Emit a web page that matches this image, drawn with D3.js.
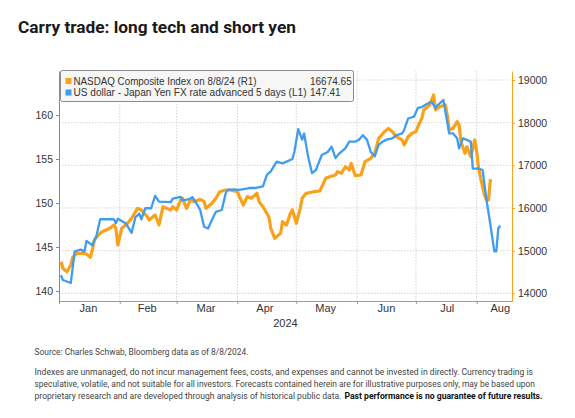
<!DOCTYPE html>
<html><head><meta charset="utf-8">
<script src="https://cdn.jsdelivr.net/npm/d3@7/dist/d3.min.js"></script>
<style>body{margin:0;background:#fff}svg{display:block}</style>
</head><body>
<svg id="c" width="575" height="418"></svg>
<script>
// ---- data ----
const fxDates = ["2024-01-02","2024-01-03","2024-01-07","2024-01-09","2024-01-12","2024-01-14","2024-01-15","2024-01-18","2024-01-20","2024-01-22","2024-01-24","2024-01-29","2024-01-30","2024-01-31","2024-02-04","2024-02-07","2024-02-09","2024-02-11","2024-02-12","2024-02-14","2024-02-17","2024-02-19","2024-02-21","2024-02-27","2024-02-28","2024-03-03","2024-03-04","2024-03-07","2024-03-09","2024-03-11","2024-03-13","2024-03-15","2024-03-17","2024-03-19","2024-03-21","2024-03-24","2024-03-26","2024-03-27","2024-03-30","2024-04-02","2024-04-07","2024-04-10","2024-04-14","2024-04-16","2024-04-18","2024-04-21","2024-04-24","2024-04-29","2024-04-30","2024-05-02","2024-05-04","2024-05-05","2024-05-07","2024-05-09","2024-05-11","2024-05-14","2024-05-17","2024-05-19","2024-05-21","2024-05-23","2024-05-26","2024-05-28","2024-05-31","2024-06-02","2024-06-04","2024-06-06","2024-06-08","2024-06-10","2024-06-12","2024-06-14","2024-06-16","2024-06-19","2024-06-21","2024-06-24","2024-06-25","2024-06-27","2024-06-30","2024-07-02","2024-07-04","2024-07-07","2024-07-09","2024-07-11","2024-07-12","2024-07-15","2024-07-18","2024-07-20","2024-07-22","2024-07-23","2024-07-25","2024-07-29","2024-07-30","2024-08-02","2024-08-04","2024-08-06","2024-08-08","2024-08-10","2024-08-11","2024-08-12","2024-08-13"];
const fxValues = [141.8,141.25,140.9,144.5,144.7,144.5,145.7,145.2,146.2,148.15,148.15,148.15,147.7,148.2,147.7,146.6,148.4,148.8,148.15,149.4,149.4,150.8,150.15,150.1,150.5,150.7,150.3,150.4,150.65,150.0,149.2,147.3,147.1,148.1,149.0,149.2,151.1,151.5,151.55,151.5,151.7,151.7,151.9,153.2,153.6,154.7,154.5,155.0,155.8,158.4,157.2,157.9,155.3,153.4,153.75,155.45,155.8,156.4,155.1,155.65,156.2,156.97,156.97,157.2,157.7,157.2,155.8,155.3,156.6,156.97,157.2,157.35,157.7,157.9,158.3,159.6,159.8,160.8,160.9,161.3,161.5,160.8,161.1,161.7,157.9,157.9,157.35,156.2,157.35,156.97,153.9,153.9,153.75,150.35,147.5,144.5,144.5,147.1,147.41];

const ndxDates = ["2024-01-02","2024-01-03","2024-01-05","2024-01-07","2024-01-08","2024-01-10","2024-01-13","2024-01-15","2024-01-17","2024-01-18","2024-01-19","2024-01-21","2024-01-23","2024-01-25","2024-01-27","2024-01-29","2024-01-30","2024-01-31","2024-02-02","2024-02-04","2024-02-05","2024-02-07","2024-02-09","2024-02-10","2024-02-12","2024-02-15","2024-02-16","2024-02-19","2024-02-21","2024-02-23","2024-02-27","2024-02-28","2024-03-01","2024-03-03","2024-03-04","2024-03-06","2024-03-08","2024-03-10","2024-03-13","2024-03-15","2024-03-16","2024-03-19","2024-03-21","2024-03-23","2024-03-26","2024-03-28","2024-04-01","2024-04-02","2024-04-04","2024-04-06","2024-04-08","2024-04-11","2024-04-12","2024-04-14","2024-04-17","2024-04-18","2024-04-20","2024-04-23","2024-04-24","2024-04-26","2024-04-28","2024-04-29","2024-05-01","2024-05-03","2024-05-04","2024-05-06","2024-05-10","2024-05-13","2024-05-16","2024-05-18","2024-05-21","2024-05-22","2024-05-24","2024-05-26","2024-05-28","2024-05-29","2024-05-31","2024-06-03","2024-06-05","2024-06-08","2024-06-10","2024-06-12","2024-06-15","2024-06-17","2024-06-19","2024-06-21","2024-06-24","2024-06-25","2024-06-27","2024-06-29","2024-07-01","2024-07-02","2024-07-04","2024-07-05","2024-07-08","2024-07-10","2024-07-11","2024-07-13","2024-07-16","2024-07-17","2024-07-18","2024-07-20","2024-07-22","2024-07-23","2024-07-24","2024-07-26","2024-07-27","2024-07-29","2024-07-31","2024-08-01","2024-08-02","2024-08-03","2024-08-05","2024-08-06","2024-08-07","2024-08-08"];
const ndxValues = [14741,14586,14507,14664,14844,14938,14938,14922,14844,15015,15250,15367,15444,15484,15523,15601,15523,15132,15523,15601,15641,15758,15913,15992,15953,15796,15718,15836,15601,16030,15953,16030,15953,16187,16227,15992,16187,16148,16204,16148,15992,16110,16227,16382,16422,16422,16382,16265,16070,16265,16227,16344,16148,16030,15796,15524,15289,15407,15679,15601,15876,15953,15641,15992,16227,16344,16382,16398,16696,16734,16773,16851,16813,16968,16890,17047,16760,16773,17085,17165,17282,17633,17788,17867,17788,17671,17594,17476,17671,17750,17788,17906,18102,18297,18414,18648,18297,18375,18414,18180,17828,17867,18023,17945,17554,17282,17437,17202,17594,17320,16930,16696,16300,16187,16187,16674.65];

const leftTicks = [140,145,150,155,160];
const rightTicks = [14000,15000,16000,17000,18000,19000];
const monthLabels = ["Jan","Feb","Mar","Apr","May","Jun","Jul","Aug"];
const monthLabelDates = ["2024-01-16","2024-02-15","2024-03-16","2024-04-15","2024-05-16","2024-06-16","2024-07-17","2024-08-13"];
const yearLabel = "2024";
const legendNames = ["NASDAQ Composite Index on 8/8/24 (R1)","US dollar - Japan Yen FX rate advanced 5 days (L1)"];
const legendValues = ["16674.65","147.41"];

// ---- layout ----
const parse = d3.timeParse("%Y-%m-%d");
const L = 59, R = 512, T = 71, B = 301;
const ORANGE = "#f9a11b", BLUE = "#3f9cf0";
const svg = d3.select("#c");

const x = d3.scaleTime().domain([new Date(2024,0,1), new Date(2024,7,19)]).range([L,R]);
const yL = d3.scaleLinear().domain([138.86,165]).range([B,T]);
const yR = d3.scaleLinear().domain([13820,19211]).range([B,T]);

// title
svg.append("text").attr("x",18).attr("y",33)
  .attr("font-family","Roboto, 'Liberation Sans', sans-serif").attr("font-weight",700)
  .attr("font-size",16).attr("fill","#1a1a1a").attr("textLength",278).attr("lengthAdjust","spacingAndGlyphs")
  .text("Carry trade: long tech and short yen");

// gridlines
const months = d3.timeMonth.range(new Date(2024,1,1), new Date(2024,7,2));
svg.append("g").selectAll("line").data(months).join("line")
  .attr("x1",d=>x(d)).attr("x2",d=>x(d)).attr("y1",T).attr("y2",B)
  .attr("stroke","#c8c8c8").attr("stroke-width",0.8).attr("stroke-dasharray","1.5,1.5");
svg.append("g").selectAll("line").data(rightTicks).join("line")
  .attr("x1",L).attr("x2",R).attr("y1",d=>yR(d)).attr("y2",d=>yR(d))
  .attr("stroke","#c8c8c8").attr("stroke-width",0.8).attr("stroke-dasharray","1.5,1.5");

// axes
const gl = svg.append("g").attr("transform",`translate(${L},0)`)
  .call(d3.axisLeft(yL).tickValues(leftTicks).tickSize(3).tickSizeOuter(0).tickPadding(3));
gl.select(".domain").attr("stroke",BLUE);
gl.selectAll(".tick line").attr("stroke",BLUE);
gl.selectAll("text").attr("font-family","'Liberation Sans', Arial, sans-serif").attr("font-size",10.5).attr("fill","#333");

const gr = svg.append("g").attr("transform",`translate(${R},0)`)
  .call(d3.axisRight(yR).tickValues(rightTicks).tickSize(3).tickSizeOuter(0).tickPadding(3).tickFormat(d3.format("d")));
gr.select(".domain").attr("stroke",ORANGE);
gr.selectAll(".tick line").attr("stroke",ORANGE);
gr.selectAll("text").attr("font-family","'Liberation Sans', Arial, sans-serif").attr("font-size",10.5).attr("fill","#333");

const allMonths = d3.timeMonth.range(new Date(2024,0,1), new Date(2024,7,2));
const gb = svg.append("g").attr("transform",`translate(0,${B})`)
  .call(d3.axisBottom(x).tickValues(allMonths).tickSize(3).tickSizeOuter(0).tickFormat(""));
gb.select(".domain").attr("stroke","#9a9a9a");
gb.selectAll(".tick line").attr("stroke","#9a9a9a");
svg.append("g").selectAll("text").data(monthLabels).join("text")
  .attr("x",(d,i)=>x(parse(monthLabelDates[i]))).attr("y",312).attr("text-anchor","middle")
  .attr("font-family","'Liberation Sans', Arial, sans-serif").attr("font-size",11).attr("fill","#333").text(d=>d);
svg.append("text").attr("x",(L+R)/2).attr("y",327).attr("text-anchor","middle")
  .attr("font-family","'Liberation Sans', Arial, sans-serif").attr("font-size",11).attr("fill","#333").text(yearLabel);

// lines
const ndx = ndxDates.map((d,i)=>({d:parse(d),v:ndxValues[i]}));
const fx = fxDates.map((d,i)=>({d:parse(d),v:fxValues[i]}));
svg.append("path").datum(ndx)
  .attr("d",d3.line().x(p=>x(p.d)).y(p=>yR(p.v)))
  .attr("fill","none").attr("stroke",ORANGE).attr("stroke-width",3.2).attr("stroke-linejoin","round");
svg.append("path").datum(fx)
  .attr("d",d3.line().x(p=>x(p.d)).y(p=>yL(p.v)))
  .attr("fill","none").attr("stroke",BLUE).attr("stroke-width",2.3).attr("stroke-linejoin","round");

// legend
const lg = svg.append("g");
lg.append("rect").attr("x",60.5).attr("y",70.5).attr("width",293).attr("height",31).attr("rx",2)
  .attr("fill","#f6f6f6").attr("stroke","#8c8c8c").attr("stroke-width",1);
const legColors = [ORANGE,BLUE];
const legW = [183,233];
legendNames.forEach((n,i)=>{
  const cy = 81 + i*11.5;
  lg.append("rect").attr("x",65.5).attr("y",cy-3).attr("width",6).attr("height",6).attr("fill",legColors[i]);
  lg.append("text").attr("x",73.5).attr("y",cy+3.5).attr("font-family","'Liberation Sans', Arial, sans-serif")
    .attr("font-size",10).attr("fill","#333").attr("textLength",legW[i]).attr("lengthAdjust","spacingAndGlyphs").text(n);
  lg.append("text").attr("x",310).attr("y",cy+3.5).attr("font-family","'Liberation Sans', Arial, sans-serif")
    .attr("font-size",10).attr("fill","#333").text(legendValues[i]);
});

// footnotes
const fnFont = "Roboto, 'Liberation Sans', sans-serif";
svg.append("text").attr("x",34.5).attr("y",355.3).attr("font-family",fnFont).attr("font-size",8.4)
  .attr("fill","#444").attr("textLength",214).attr("lengthAdjust","spacingAndGlyphs")
  .text("Source: Charles Schwab, Bloomberg data as of 8/8/2024.");
const fnLines = [
  "Indexes are unmanaged, do not incur management fees, costs, and expenses and cannot be invested in directly. Currency trading is",
  "speculative, volatile, and not suitable for all investors. Forecasts contained herein are for illustrative purposes only, may be based upon",
  "proprietary research and are developed through analysis of historical public data."
];
const fnW = [498.5,500.5,307];
fnLines.forEach((t,i)=>{
  svg.append("text").attr("x",34.5).attr("y",374.7+i*12.3).attr("font-family",fnFont).attr("font-size",8.4)
    .attr("fill","#444").attr("textLength",fnW[i]).attr("lengthAdjust","spacingAndGlyphs").text(t);
});
svg.append("text").attr("x",344.5).attr("y",374.7+2*12.3).attr("font-family",fnFont).attr("font-size",8.4)
  .attr("font-weight",700).attr("fill","#111").attr("textLength",198).attr("lengthAdjust","spacingAndGlyphs")
  .text("Past performance is no guarantee of future results.");
</script>
</body></html>
